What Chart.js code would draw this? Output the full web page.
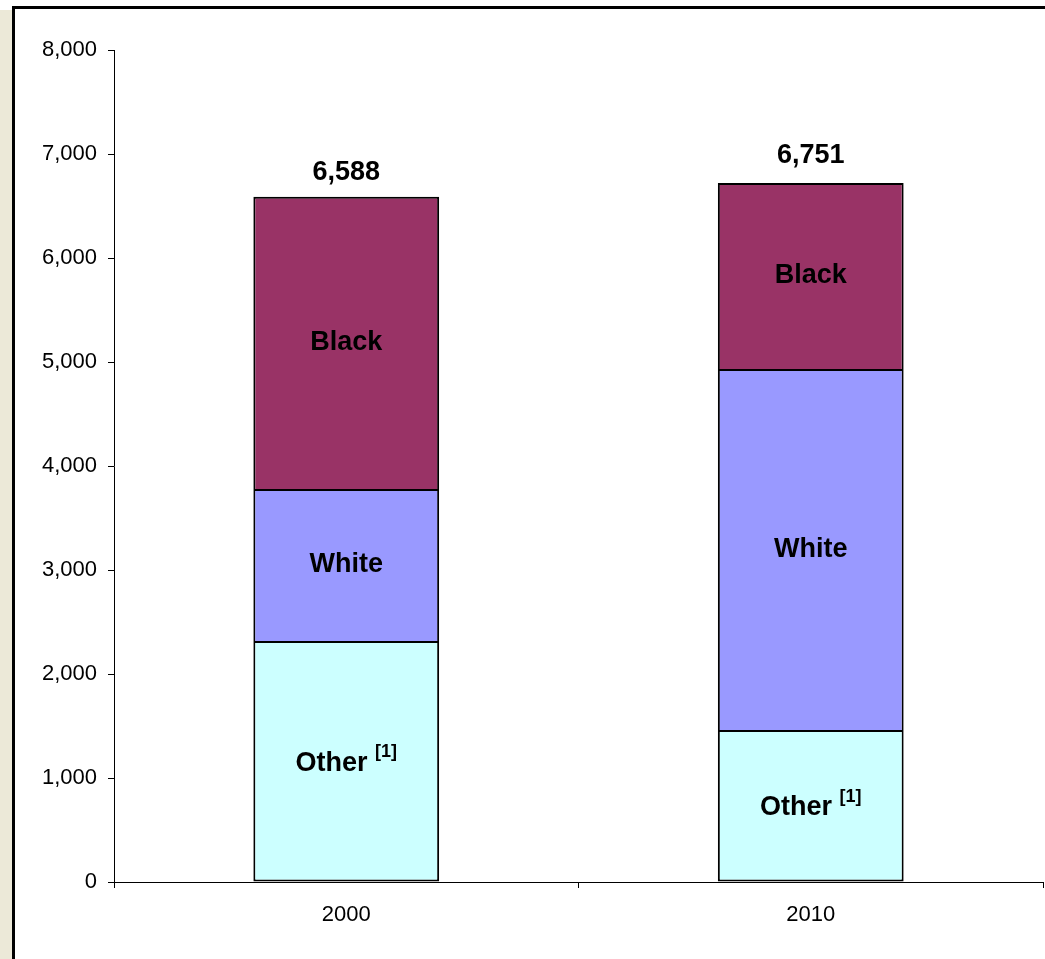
<!DOCTYPE html>
<html>
<head>
<meta charset="utf-8">
<script src="https://cdn.jsdelivr.net/npm/chart.js@4"></script>
<style>
  html, body { margin: 0; padding: 0; background: #fff; }
  #wrap { position: relative; width: 1045px; height: 959px; overflow: hidden; }
  #strip { position: absolute; left: 0; top: 10px; width: 12px; height: 949px; background: #ECE9D8; }
  #frame { position: absolute; left: 12px; top: 6px; width: 1045px; height: 970px;
           border-left: 3px solid #000; border-top: 3px solid #000; background: #fff; }
  #grafico { position: absolute; left: 0; top: 0; }
</style>
</head>
<body>
<div id="wrap">
  <div id="strip"></div>
  <div id="frame"></div>
  <canvas id="grafico" width="1045" height="959"></canvas>
</div>
<script>
// datos
const anios = ["2000", "2010"];
const otros = [2317, 1462];
const blancos = [1462, 3471];
const negros = [2809, 1788];
const totales = [6588, 6751];
const etiquetasSerie = ["Other", "White", "Black"];

const fuente = "'Liberation Sans', Arial, sans-serif";

// etiquetas dentro de cada segmento y total encima
const etiquetasPlugin = {
  id: "etiquetas",
  afterDatasetsDraw(chart) {
    const ctx = chart.ctx;
    const yScale = chart.scales.y;
    ctx.save();
    ctx.fillStyle = "#000";
    ctx.textAlign = "left";
    ctx.textBaseline = "middle";
    chart.data.datasets.forEach((ds, i) => {
      const meta = chart.getDatasetMeta(i);
      meta.data.forEach(bar => {
        const cx = bar.x;
        const cy = (bar.y + bar.base) / 2;
        ctx.font = "bold 27px " + fuente;
        if (ds.label === "Other") {
          const main = "Other ";
          const w1 = ctx.measureText(main).width;
          ctx.font = "bold 18px " + fuente;
          const w2 = ctx.measureText("[1]").width;
          const x0 = cx - (w1 + w2) / 2;
          ctx.font = "bold 27px " + fuente;
          ctx.fillText(main, x0, cy + 2);
          ctx.font = "bold 18px " + fuente;
          ctx.fillText("[1]", x0 + w1, cy - 9);
        } else {
          ctx.textAlign = "center";
          ctx.fillText(ds.label, cx, cy);
          ctx.textAlign = "left";
        }
      });
    });
    // totales
    ctx.font = "bold 27px " + fuente;
    ctx.textAlign = "center";
    ctx.textBaseline = "alphabetic";
    const meta0 = chart.getDatasetMeta(0);
    totales.forEach((t, i) => {
      const x = meta0.data[i].x;
      const y = yScale.getPixelForValue(t) - 17;
      ctx.fillText(t.toLocaleString("en-US"), x, y);
    });
    ctx.restore();
  }
};

const ctx = document.getElementById("grafico").getContext("2d");
new Chart(ctx, {
  type: "bar",
  data: {
    labels: anios,
    datasets: [
      { label: etiquetasSerie[0], data: otros, backgroundColor: "#CCFFFF", borderSkipped: false },
      { label: etiquetasSerie[1], data: blancos, backgroundColor: "#9999FF", borderSkipped: "start" },
      { label: etiquetasSerie[2], data: negros, backgroundColor: "#993366", borderSkipped: "start" }
    ].map(d => Object.assign(d, {
      borderColor: "#000",
      borderWidth: 2,
      categoryPercentage: 0.8,
      barPercentage: 0.5
    }))
  },
  options: {
    responsive: false,
    animation: false,
    layout: { padding: { left: 0, top: 50, right: 2, bottom: 0 } },
    plugins: {
      legend: { display: false },
      tooltip: { enabled: false }
    },
    scales: {
      x: {
        stacked: true,
        grid: { drawOnChartArea: false, drawTicks: true, tickLength: 6, color: "#000", offset: true },
        border: { display: true, color: "#000", width: 1 },
        ticks: { color: "#000", font: { family: fuente, size: 22 }, padding: 14 },
        afterFit(scale) { scale.height = 959 - 882; }
      },
      y: {
        stacked: true,
        min: 0,
        max: 8000,
        grid: { drawOnChartArea: false, drawTicks: true, tickLength: 6, color: "#000" },
        border: { display: true, color: "#000", width: 1 },
        ticks: {
          stepSize: 1000,
          color: "#000",
          font: { family: fuente, size: 22 },
          padding: 11,
          callback: v => v.toLocaleString("en-US")
        },
        afterFit(scale) { scale.width = 114; }
      }
    }
  },
  plugins: [etiquetasPlugin]
});
</script>
</body>
</html>
